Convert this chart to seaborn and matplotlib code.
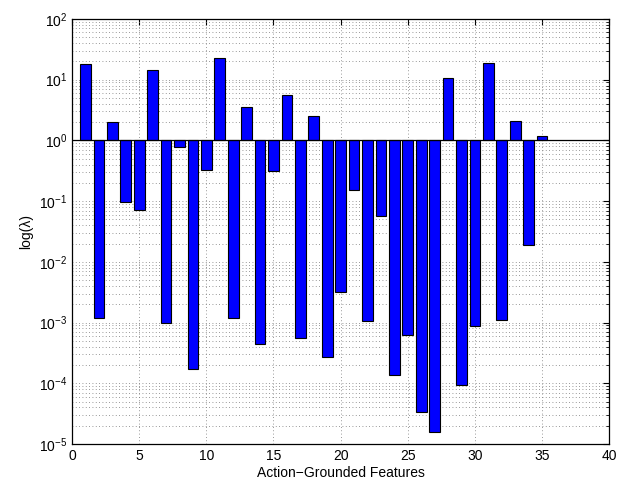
import numpy as np
import pandas as pd
import matplotlib
matplotlib.use("Agg")
import matplotlib.pyplot as plt
import seaborn as sns

sns.set_style("white")
plt.rcParams['font.family'] = ['Liberation Sans', 'DejaVu Sans']
plt.rcParams['mathtext.default'] = 'regular'

# feature index and lambda value
features = list(range(1, 36))
lam = [17.8, 1.17e-3, 2.0, 0.095, 0.072, 14.7, 0.98e-3, 0.79, 1.7e-4, 0.33,
       23.0, 1.17e-3, 3.6, 4.5e-4, 0.31, 5.7, 5.5e-4, 2.5, 2.7e-4, 3.2e-3,
       0.15, 1.05e-3, 0.056, 1.35e-4, 6.3e-4, 3.4e-5, 1.55e-5, 10.5, 9.2e-5, 8.7e-4,
       18.5, 1.12e-3, 2.05, 0.019, 1.16]
decades = list(range(-5, 3))

df = pd.DataFrame({"feature": features, "loglam": np.log10(lam)})

fig = plt.figure(figsize=(6.32, 4.86), dpi=100)
ax = fig.add_axes([0.114, 0.0864, 0.85, 0.8746])

sns.barplot(data=df, x="feature", y="loglam", native_scale=True, color="blue",
            saturation=1, edgecolor="black", linewidth=0.8, width=0.8, ax=ax, zorder=3)

ax.axhline(0, color="black", lw=0.9, zorder=4)

ax.set_xlim(0, 40)
ax.set_ylim(-5, 2)
ax.set_xticks(range(0, 41, 5))
ax.set_yticks(decades)
ax.set_yticklabels([f"$10^{{{d}}}$" for d in decades])
minor = [d + np.log10(m) for d in decades[:-1] for m in range(2, 10)]
ax.set_yticks(minor, minor=True)

grid_kw = dict(linestyle=(0, (1, 3)), color="#777777", lw=0.6, zorder=0)
ax.grid(True, which="major", **grid_kw)
ax.grid(True, which="minor", axis="y", **grid_kw)

ax.tick_params(which="both", direction="in", top=True, right=True, labelsize=10,
               colors="black")
ax.tick_params(which="major", length=4)
ax.tick_params(which="minor", length=2)
for s in ax.spines.values():
    s.set_color("black")
    s.set_linewidth(0.9)

ax.set_xlabel("Action\u2212Grounded Features", fontsize=10, labelpad=2, color="black")
ax.set_ylabel("log(\u03bb)", fontsize=10, labelpad=4, color="black")

plt.savefig("out.png", dpi=100)
